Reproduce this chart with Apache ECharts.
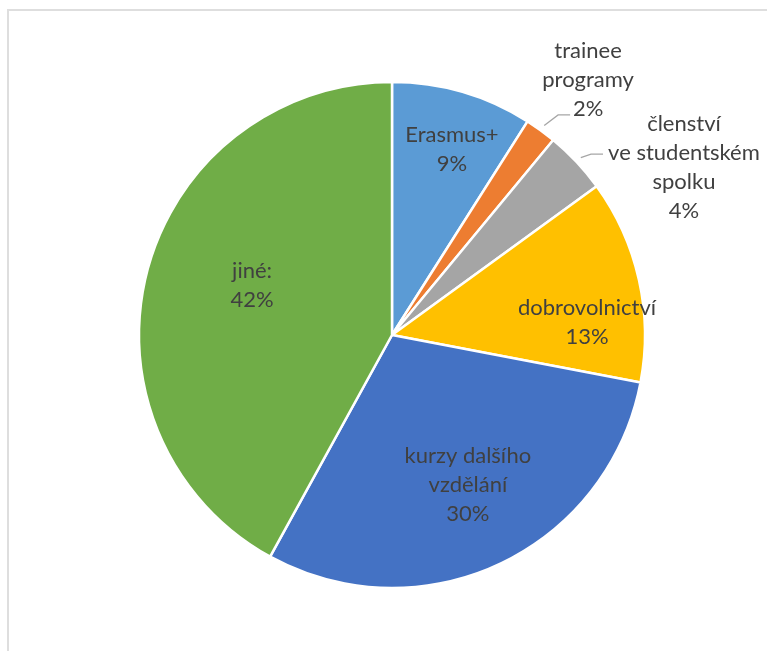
<!DOCTYPE html>
<html>
<head>
<meta charset="utf-8">
<script src="https://cdn.jsdelivr.net/npm/echarts@6/dist/echarts.min.js"></script>
<style>
  html, body { margin: 0; padding: 0; background: #fff; }
  #frame {
    position: absolute; left: 7px; top: 9px; right: 0; bottom: 0;
    border-top: 2px solid #dedede; border-left: 2px solid #dedede;
  }
  #chart { position: absolute; left: 0; top: 0; width: 767px; height: 651px; }
</style>
</head>
<body>
<div id="frame"></div>
<div id="chart"></div>
<script>
// Share of activities (percent), clockwise from 12 o'clock
const categories = [
  'Erasmus+',
  'trainee\nprogramy',
  'členství\nve studentském\nspolku',
  'dobrovolnictví',
  'kurzy dalšího\nvzdělání',
  'jiné:'
];
const shares = [9, 2, 4, 13, 30, 42];
const sliceColors = ['#5B9BD5', '#ED7D31', '#A5A5A5', '#FFC000', '#4472C4', '#70AD47'];

// Pie geometry (pixels)
const CX = 392, CY = 335, R = 253;

// Label centres, relative to the pie centre in units of radius
const labelSpots = [
  [0.237, -0.735],
  [0.775, -1.010],
  [1.154, -0.662],
  [0.771, -0.051],
  [0.300, 0.593],
  [-0.553, -0.196]
];
// Leader-line ends for the labels placed outside (null = inside label)
const leaderEnds = [null, [0.704, -0.870], [0.834, -0.715], null, null, null];
const leaderArm = 12;

const total = shares.reduce((a, b) => a + b, 0);
function midAngle(i) {
  let before = 0;
  for (let k = 0; k < i; k++) before += shares[k];
  return ((before + shares[i] / 2) / total) * Math.PI * 2;
}

const data = categories.map((name, i) => {
  const item = { name: name, value: shares[i], itemStyle: { color: sliceColors[i] } };
  if (leaderEnds[i]) {
    item.label = { position: 'outside' };
    item.labelLine = { show: true };
  }
  return item;
});

const chart = echarts.init(document.getElementById('chart'), null, { renderer: 'canvas' });
chart.setOption({
  animation: false,
  backgroundColor: 'transparent',
  series: [{
    type: 'pie',
    center: [CX, CY],
    radius: R,
    startAngle: 90,
    clockwise: true,
    avoidLabelOverlap: false,
    silent: true,
    itemStyle: { borderColor: '#ffffff', borderWidth: 2.5 },
    label: {
      show: true,
      position: 'inside',
      formatter: '{b}\n{c}%',
      color: '#404040',
      fontFamily: 'Lato',
      fontSize: 22,
      lineHeight: 29
    },
    labelLine: {
      show: false,
      lineStyle: { color: '#A6A6A6', width: 1.3 }
    },
    labelLayout: function (params) {
      const i = params.dataIndex;
      const spot = labelSpots[i];
      const out = {
        x: CX + spot[0] * R,
        y: CY + spot[1] * R,
        align: 'center',
        verticalAlign: 'middle'
      };
      const end = leaderEnds[i];
      if (end) {
        const a = midAngle(i);
        const sx = CX + (R + 6) * Math.sin(a);
        const sy = CY - (R + 6) * Math.cos(a);
        const ex = CX + end[0] * R;
        const ey = CY + end[1] * R;
        out.labelLinePoints = [[sx, sy], [ex - leaderArm, ey], [ex, ey]];
      }
      return out;
    },
    data: data
  }]
});
</script>
</body>
</html>
